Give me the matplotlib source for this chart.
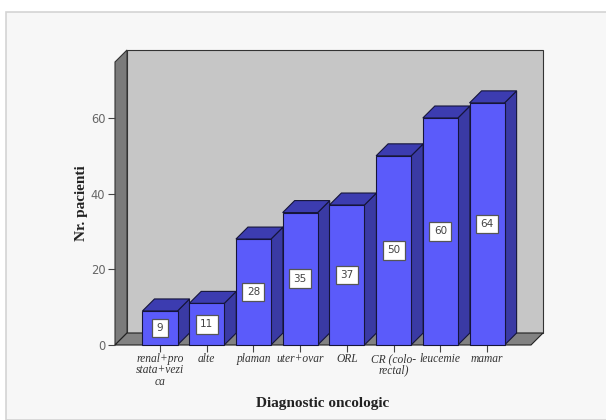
import matplotlib.pyplot as plt
from matplotlib.patches import Polygon, Rectangle

categories = ["renal+pro\nstata+vezi\nca", "alte", "plaman", "uter+ovar", "ORL",
              "CR (colo-\nrectal)", "leucemie", "mamar"]
patients = [9, 11, 28, 35, 37, 50, 60, 64]
yticks = [0, 20, 40, 60]

# pseudo-3d look: depth offsets in data units
dx, dy = 0.257, 3.17
bar_w = 0.75
x0, x1 = -0.963, 7.94
y0, y1 = 0, 74.8

fig = plt.figure(figsize=(6.06, 4.20), dpi=100)
fig.patch.set_facecolor("white")
fig.patches.append(Rectangle((6 / 606, 0), 1, 1 - 12 / 420, transform=fig.transFigure,
                             facecolor="#f7f7f7", edgecolor="#d4d4d4", lw=1.2, zorder=-5))

ax = fig.add_axes([115 / 606, 75 / 420, 416 / 606, 283 / 420])
ax.set_xlim(x0, x1)
ax.set_ylim(y0, y1)
ax.patch.set_visible(False)
for s in ax.spines.values():
    s.set_visible(False)


def face(pts, fc, ec="#222222", lw=0.8, z=1):
    ax.add_patch(Polygon(pts, closed=True, facecolor=fc, edgecolor=ec, lw=lw,
                         clip_on=False, zorder=z))


# back wall, left wall, floor
face([(x0 + dx, y0 + dy), (x1 + dx, y0 + dy), (x1 + dx, y1 + dy), (x0 + dx, y1 + dy)],
     "#c6c6c6", ec="#333333", z=0)
face([(x0, y0), (x0 + dx, y0 + dy), (x0 + dx, y1 + dy), (x0, y1)], "#7b7b7b", ec="#333333", z=0)
face([(x0, y0), (x1, y0), (x1 + dx, y0 + dy), (x0 + dx, y0 + dy)], "#828282", ec="#222222", z=0)

for i, v in enumerate(patients):
    l, r = i - bar_w / 2, i + bar_w / 2
    face([(r, 0), (r + dx, dy), (r + dx, v + dy), (r, v)], "#3a3aa4", ec="#15153a", z=2 + i)
    face([(l, v), (r, v), (r + dx, v + dy), (l + dx, v + dy)], "#3c3cb0", ec="#15153a", z=2 + i)
    face([(l, 0), (r, 0), (r, v), (l, v)], "#5b5bfa", ec="#15153a", z=2 + i)
    ax.text(i, v / 2, str(v), ha="center", va="center", fontsize=7.5, color="#444444",
            family="DejaVu Sans", zorder=20,
            bbox=dict(boxstyle="square,pad=0.42", fc="white", ec="#555555", lw=0.9))

ax.set_yticks(yticks)
ax.set_yticklabels([str(t) for t in yticks], fontsize=8.3, color="#666666", family="DejaVu Sans")
ax.set_xticks(range(len(categories)))
ax.set_xticklabels(categories, fontsize=8.3, color="#333333", family="Liberation Serif",
                   style="italic", linespacing=0.9)
ax.tick_params(axis="y", length=5, width=0.8, color="#444444", pad=2)
ax.tick_params(axis="x", length=5, width=0.8, color="#444444", pad=1)

fig.text(81 / 606, 1 - 203 / 420, "Nr. pacienti", ha="center", va="center", rotation=90,
         fontsize=11, fontweight="bold", family="Liberation Serif", color="#222222")
fig.text(323 / 606, 1 - 403 / 420, "Diagnostic oncologic", ha="center", va="center",
         fontsize=11, fontweight="bold", family="Liberation Serif", color="#222222")

plt.savefig("out.png", dpi=100)
